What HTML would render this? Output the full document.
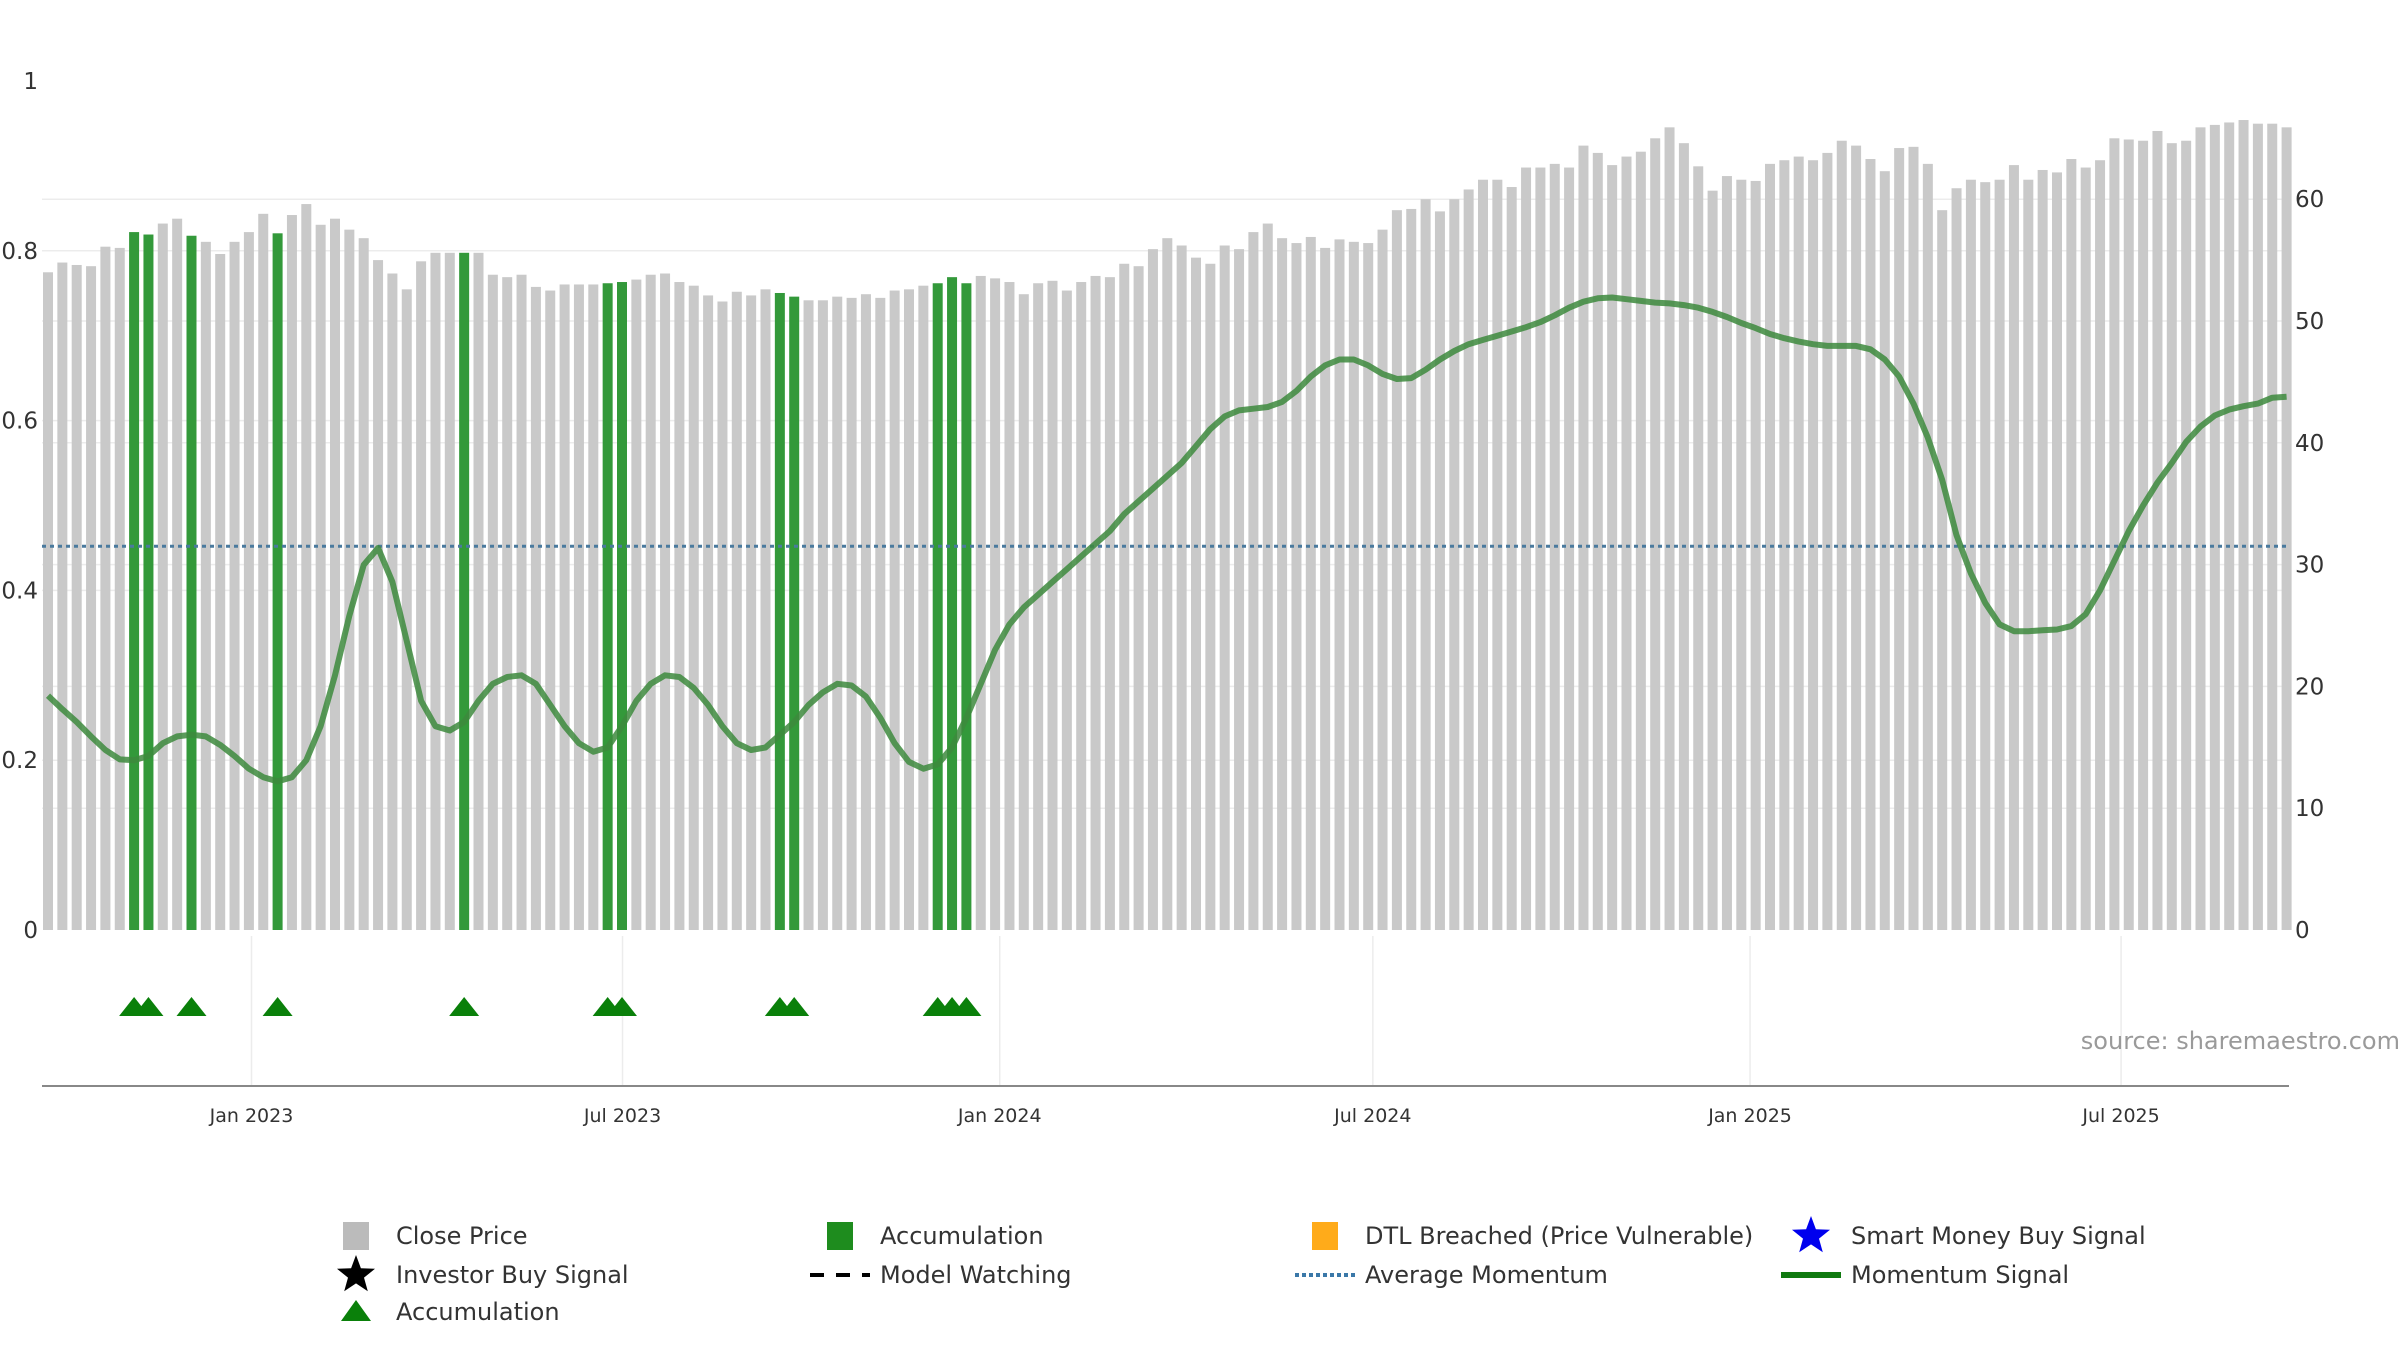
<!DOCTYPE html>
<html><head><meta charset="utf-8"><style>
html,body{margin:0;padding:0;background:#fff;}
svg{display:block;font-family:"DejaVu Sans","Liberation Sans",sans-serif;}
</style></head><body>
<svg id="chart" width="2400" height="1350" viewBox="0 0 2400 1350" xmlns="http://www.w3.org/2000/svg">
<g id="grid"></g><g id="bars"></g><g id="lines"></g><g id="axes"></g><g id="lower"></g><g id="legend"></g>
<text x="2400" y="1049" text-anchor="end" font-size="24" fill="#9a9a9a">source: sharemaestro.com</text>
</svg>
<script>
const closePrices = [54.0,54.8,54.6,54.5,56.1,56.0,57.3,57.1,58.0,58.4,57.0,56.5,55.5,56.5,57.3,58.8,57.2,58.7,59.6,57.9,58.4,57.5,56.8,55.0,53.9,52.6,54.9,55.6,55.6,55.6,55.6,53.8,53.6,53.8,52.8,52.5,53.0,53.0,53.0,53.1,53.2,
53.4,53.8,53.9,53.2,52.9,52.1,51.6,52.4,52.1,52.6,52.3,52.0,51.7,51.7,52.0,51.9,52.2,51.9,52.5,52.6,52.9,53.1,53.6,53.1,53.7,53.5,53.2,52.2,53.1,53.3,52.5,53.2,53.7,53.6,54.7,54.5,55.9,56.8,56.2,55.2,
54.7,56.2,55.9,57.3,58.0,56.8,56.4,56.9,56.0,56.7,56.5,56.4,57.5,59.1,59.2,60.0,59.0,60.0,60.8,61.6,61.6,61.0,62.6,62.6,62.9,62.6,64.4,63.8,62.8,63.5,63.9,65.0,65.9,64.6,62.7,60.7,61.9,61.6,61.5,
62.9,63.2,63.5,63.2,63.8,64.8,64.4,63.3,62.3,64.2,64.3,62.9,59.1,60.9,61.6,61.4,61.6,62.8,61.6,62.4,62.2,63.3,62.6,63.2,65.0,64.9,64.8,65.6,64.6,64.8,65.9,66.1,66.3,66.5,66.2,66.2,65.9];
const accumulationIdx = [6,7,10,16,29,39,40,51,52,62,63,64];
const momentum = [0.276,0.26,0.245,0.228,0.212,0.201,0.20,0.205,0.22,0.228,0.23,0.228,0.218,0.205,0.19,0.18,0.175,0.18,0.2,0.24,0.3,0.37,0.43,0.45,0.41,0.34,0.27,0.24,0.235,0.245,0.27,0.29,0.298,0.3,0.29,0.265,0.24,0.22,0.21,0.215,0.24,0.27,0.29,0.3,0.298,0.285,0.265,0.24,0.22,0.212,0.215,0.23,0.245,0.265,0.28,0.29,0.288,0.275,0.25,0.22,0.198,0.19,0.195,0.215,0.25,0.29,0.33,0.36,0.38,
0.395,0.41,0.425,0.44,0.455,0.47,0.49,0.505,0.52,0.535,0.55,0.57,0.59,0.605,0.612,0.614,0.616,0.622,0.635,0.652,0.665,0.672,0.672,0.665,0.655,0.649,0.65,0.66,0.672,0.682,0.69,0.695,0.70,0.705,0.71,0.716,0.724,0.733,0.74,0.744,0.745,0.743,0.741,0.739,0.738,0.736,0.733,0.728,0.722,0.715,0.709,0.702,0.697,0.693,0.69,0.688,0.688,0.688,0.684,0.672,0.652,0.62,0.58,0.53,0.465,0.42,0.385,0.36,0.352,0.352,0.353,0.354,0.358,0.372,0.40,0.435,0.47,0.50,0.527,0.55,0.575,0.593,0.606,0.613,0.617,0.62,0.627,0.628];
const avgMomentum = 0.452;
const leftTicks = [0,0.2,0.4,0.6,0.8,1];
const leftTickLabels = ["0","0.2","0.4","0.6","0.8","1"];
const rightTicks = [0,10,20,30,40,50,60];
const dateTickLabels = ["Jan 2023","Jul 2023","Jan 2024","Jul 2024","Jan 2025","Jul 2025"];
const dateTickDays = [0,181,365,547,731,912];

const NS="http://www.w3.org/2000/svg";
const X0=48, PITCH=14.35, BW=10, Y0=930;
function xIdx(i){return X0+i*PITCH;}
function yL(v){return Y0-v*849;}
function yR(v){return Y0-v*12.18;}
function xDate(d){return xIdx(14.18+d/7);}
function mk(tag,attrs,parent){const e=document.createElementNS(NS,tag);for(const k in attrs)e.setAttribute(k,attrs[k]);parent.appendChild(e);return e;}
const G=id=>document.getElementById(id);

// gridlines
leftTicks.forEach(t=>{if(t>0&&t<1){const l=mk('line',{x1:42,x2:2289,y1:yL(t),y2:yL(t),stroke:'#ececec','stroke-width':1.5},G('grid'));

}});
rightTicks.forEach(t=>{if(t>0){const l=mk('line',{x1:42,x2:2289,y1:yR(t),y2:yR(t),stroke:'#ececec','stroke-width':1.5},G('grid'));

}});
dateTickDays.forEach(d=>{const l=mk('line',{x1:xDate(d),x2:xDate(d),y1:936,y2:1086,stroke:'#ececec','stroke-width':1.5},G('grid'));

});

// bars
closePrices.forEach((v,i)=>{const acc=accumulationIdx.includes(i);
const r=mk('rect',{x:xIdx(i)-BW/2,y:yR(v),width:BW,height:Y0-yR(v),fill:acc?'#33993a':'#c9c9c9'},G('bars'));

});

// average momentum
const am=mk('line',{x1:42,x2:2289,y1:yL(avgMomentum),y2:yL(avgMomentum),stroke:'#4a7a9e','stroke-width':3,'stroke-dasharray':'4,4'},G('lines'));


// momentum line
const pts=momentum.map((v,i)=>xIdx(i).toFixed(1)+','+yL(v).toFixed(1)).join(' ');
const ml=mk('polyline',{points:pts,fill:'none',stroke:'#3d8a3d','stroke-width':6,'stroke-opacity':0.85,'stroke-linejoin':'round'},G('lines'));



// axes labels
leftTicks.forEach((t,k)=>{const e=mk('text',{x:38,y:yL(t)+8,'text-anchor':'end','font-size':23,fill:'#333'},G('axes'));e.textContent=leftTickLabels[k];

});
rightTicks.forEach(t=>{const e=mk('text',{x:2295,y:yR(t)+8,'font-size':23,fill:'#333'},G('axes'));e.textContent=String(t);

});
const ax=mk('line',{x1:42,x2:2289,y1:1086,y2:1086,stroke:'#888','stroke-width':2},G('axes'));


dateTickLabels.forEach((s,k)=>{const e=mk('text',{x:xDate(dateTickDays[k]),y:1122,'text-anchor':'middle','font-size':19,fill:'#333'},G('axes'));e.textContent=s;

});

// triangles
accumulationIdx.forEach(i=>{const x=xIdx(i),y=1006;
const p=mk('polygon',{points:`${x-15},${y+10} ${x},${y-9} ${x+15},${y+10}`,fill:'#0a800a'},G('lower'));

});

// legend
function star(cx,cy,r,fill){let s='';for(let k=0;k<10;k++){const a=-Math.PI/2+k*Math.PI/5,rr=k%2?r*0.42:r;s+=(cx+rr*Math.cos(a)).toFixed(1)+','+(cy+rr*Math.sin(a)).toFixed(1)+' ';}return mk('polygon',{points:s,fill:fill},G('legend'));}
const items=[
[356,1236,'sq','#bbbbbb','Close Price','legend-close-price'],
[840,1236,'sq','#1e8c1e','Accumulation','legend-accumulation-bar'],
[1325,1236,'sq','#ffab1a','DTL Breached (Price Vulnerable)','legend-dtl-breached'],
[1811,1236,'star','#0000ee','Smart Money Buy Signal','legend-smart-money'],
[356,1275,'star','#000','Investor Buy Signal','legend-investor-buy'],
[840,1275,'dash','#000','Model Watching','legend-model-watching'],
[1325,1275,'dot','#3a78a8','Average Momentum','legend-average-momentum'],
[1811,1275,'line','#107a10','Momentum Signal','legend-momentum-signal'],
[356,1312,'tri','#0a800a','Accumulation','legend-accumulation-marker']];
items.forEach(it=>{const [x,y,t,c,label,name]=it;let m;
if(t==='sq')m=mk('rect',{x:x-13,y:y-14,width:26,height:28,fill:c},G('legend'));
else if(t==='star')m=star(x,y,20,c);
else if(t==='dash')m=mk('line',{x1:x-30,x2:x+30,y1:y,y2:y,stroke:c,'stroke-width':4,'stroke-dasharray':'14,12'},G('legend'));
else if(t==='dot')m=mk('line',{x1:x-30,x2:x+30,y1:y,y2:y,stroke:c,'stroke-width':4,'stroke-dasharray':'4,3'},G('legend'));
else if(t==='line')m=mk('line',{x1:x-30,x2:x+30,y1:y,y2:y,stroke:c,'stroke-width':6},G('legend'));
else m=mk('polygon',{points:`${x-15},${y+9} ${x},${y-12} ${x+15},${y+9}`,fill:c},G('legend'));


const e=mk('text',{x:x+40,y:y+8,'font-size':24,fill:'#333'},G('legend'));e.textContent=label;

});
</script>
</body></html>
